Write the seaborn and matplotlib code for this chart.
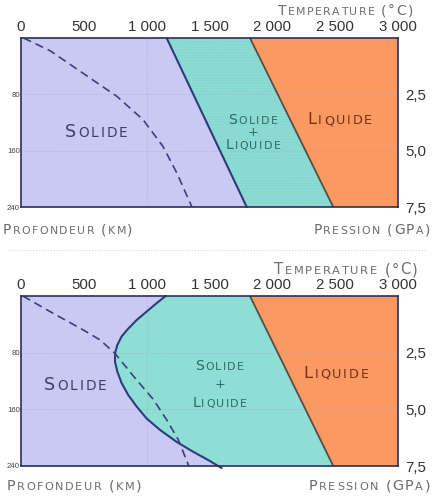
import numpy as np
import matplotlib
matplotlib.use("Agg")
import matplotlib.pyplot as plt
from matplotlib.transforms import offset_copy
import seaborn as sns

sns.set_theme(style="white")
plt.rcParams['font.family'] = ['Liberation Sans', 'DejaVu Sans']

# ---- data ----
temp_ticks = [0, 500, 1000, 1500, 2000, 2500, 3000]
temp_labels = ["0", "500", "1 000", "1 500", "2 000", "2 500", "3 000"]
depth_ticks = [80, 160, 240]
depth_labels = ["80", "160", "240"]
press_ticks = [2.5, 5.0, 7.5]
press_labels = ["2,5", "5,0", "7,5"]

# liquidus (same on both diagrams)
liq_temp = [1822, 2485]
liq_depth = [0, 240]

# top diagram: dry solidus + geotherm
sol1_temp = [1159, 1796]
sol1_depth = [0, 240]
geo1_temp = [20, 231, 493, 764, 971, 1130, 1241, 1360]
geo1_depth = [0, 18, 50, 83, 116, 154, 192, 240]

# bottom diagram: wet solidus + geotherm
sol2_temp = [1151, 1080, 1000, 920, 854, 801, 767, 748, 748, 767, 801, 854, 920,
             1000, 1106, 1239, 1371, 1504, 1597]
sol2_depth = [0, 10, 22, 34, 46, 57, 69, 81, 93, 107, 123, 140, 156,
              173, 189, 206, 220, 233, 243]
geo2_temp = [15, 231, 496, 629, 748, 894, 1053, 1160, 1252, 1335]
geo2_depth = [0, 22, 48, 62, 81, 113, 146, 175, 203, 240]

C_SOL = "#c9c9f3"
C_MIX = "#8fded6"
C_LIQ = "#fa9a62"
C_FRAME = "#2b2f5a"
C_SOLIDUS = "#2a3d7c"
C_LIQUIDUS = "#5b4b45"
C_GEO = "#3a4080"
C_AXLAB = "#6c6c6c"

W, H = 434, 499
fig = plt.figure(figsize=(W / 100, H / 100), dpi=100)
fig.patch.set_facecolor("white")
renderer = fig.canvas.get_renderer()


def small_caps(x, y, text, size, color, transform, ha="center", ratio=0.78, track=1.0):
    # matplotlib has no small-caps: place letter by letter
    pieces = []
    for ch in text:
        fs = size * ratio if ch.islower() else size
        if ch == " ":
            pieces.append((None, 0.30 * size))
            continue
        t = fig.text(0, 0, ch.upper(), fontsize=fs, color=color, family="DejaVu Sans",
                     va="baseline", ha="left")
        w = t.get_window_extent(renderer).width * 72 / fig.dpi
        pieces.append((t, w))
    total = sum(w for _, w in pieces) + track * (len(pieces) - 1)
    dx = {"left": 0, "center": -total / 2, "right": -total}[ha]
    for t, w in pieces:
        if t is not None:
            t.set_position((x, y))
            t.set_transform(offset_copy(transform, fig=fig, x=dx, y=-0.365 * size, units="points"))
        dx += w + track


def fx(px):
    return px / W


def fy(py):
    return 1 - py / H


def draw_panel(rect, sol_t, sol_d, geo_t, geo_d, texture):
    ax = fig.add_axes(rect)
    ax.set_xlim(0, 3000)
    ax.set_ylim(240, 0)

    # phase fields
    ax.fill([0] + sol_t + [0], [0] + sol_d + [sol_d[-1]], color=C_SOL, lw=0, zorder=1)
    ax.fill(sol_t + liq_temp[::-1], sol_d + liq_depth[::-1], color=C_MIX, lw=0, zorder=1)
    if texture:
        ax.fill(sol_t + liq_temp[::-1], sol_d + liq_depth[::-1], facecolor="none",
                edgecolor="#84d3cb", hatch="......", lw=0, zorder=1.5)
    ax.fill(liq_temp + [3000, 3000], liq_depth + [240, 0], color=C_LIQ, lw=0, zorder=1)

    # faint dotted grid
    for d in depth_ticks[:2]:
        ax.axhline(d, color="#9a9ab8", lw=0.7, ls=":", alpha=0.5, zorder=2)
    ax.axvline(1000, color="#9a9ab8", lw=0.7, ls=":", alpha=0.5, zorder=2)

    sns.lineplot(x=liq_temp, y=liq_depth, sort=False, estimator=None, ax=ax,
                 color=C_LIQUIDUS, lw=1.3, zorder=3)
    sns.lineplot(x=sol_t, y=sol_d, sort=False, estimator=None, ax=ax,
                 color=C_SOLIDUS, lw=1.5, zorder=4, clip_on=False)
    sns.lineplot(x=geo_t, y=geo_d, sort=False, estimator=None, ax=ax,
                 color=C_GEO, lw=1.2, dashes=(5, 3), zorder=4)

    ax.xaxis.tick_top()
    ax.set_xticks(temp_ticks, temp_labels)
    ax.set_yticks(depth_ticks, depth_labels)
    ax.tick_params(axis="x", length=0, pad=3, labelsize=10.8, labelcolor="#333333")
    ax.tick_params(axis="y", length=0, pad=0.8, labelsize=5.6, labelcolor="#444444")
    ax.set_xlabel("")
    ax.set_ylabel("")
    for sp in ax.spines.values():
        sp.set_color(C_FRAME)
        sp.set_linewidth(1.2)
        sp.set_zorder(5)

    ax2 = ax.twinx()
    ax2.set_ylim(7.5, 0)
    ax2.set_yticks(press_ticks, press_labels)
    ax2.tick_params(axis="y", length=0, pad=5, labelsize=10.8, labelcolor="#333333")
    for sp in ax2.spines.values():
        sp.set_visible(False)
    ax2.grid(False)
    ax.grid(False)
    return ax


# ---- top diagram ----
ax1 = draw_panel([fx(21), fy(207), fx(377), 169 / H], sol1_temp, sol1_depth,
                 geo1_temp, geo1_depth, texture=True)
small_caps(597, 131, "Solide", 12.6, "#3d3d6b", ax1.transData, track=1.5)
small_caps(1846, 115, "Solide", 10.2, "#2d6b66", ax1.transData, track=1.0)
small_caps(1846, 133, "+", 9.2, "#2d6b66", ax1.transData)
small_caps(1846, 150, "Liquide", 10.2, "#2d6b66", ax1.transData, track=1.0)
small_caps(2536, 114, "Liquide", 11.8, "#7a3010", ax1.transData, track=1.3)

small_caps(fx(413), fy(10), "Temperature (°C)", 10.0, C_AXLAB, fig.transFigure, ha="right", track=1.0)
small_caps(fx(3), fy(229), "Profondeur (km)", 10.0, C_AXLAB, fig.transFigure, ha="left", track=1.0)
small_caps(fx(430), fy(229), "Pression (GPa)", 10.0, C_AXLAB, fig.transFigure, ha="right", track=1.0)

# faint separator between the two diagrams
fig.add_artist(plt.Line2D([0.02, 0.98], [fy(250), fy(250)], transform=fig.transFigure,
                          color="#d5d5d5", lw=0.8, ls=":"))

# ---- bottom diagram ----
ax3 = draw_panel([fx(21), fy(466), fx(377), 170 / H], sol2_temp, sol2_depth,
                 geo2_temp, geo2_depth, texture=False)
small_caps(430, 123, "Solide", 12.6, "#3d3d6b", ax3.transData, track=1.5)
small_caps(1580, 97, "Solide", 10.2, "#2d6b66", ax3.transData, track=1.0)
small_caps(1580, 123, "+", 9.2, "#2d6b66", ax3.transData)
small_caps(1580, 150, "Liquide", 10.2, "#2d6b66", ax3.transData, track=1.0)
small_caps(2507, 107, "Liquide", 11.8, "#7a3010", ax3.transData, track=1.3)

small_caps(fx(418), fy(269), "Temperature (°C)", 10.6, C_AXLAB, fig.transFigure, ha="right", track=1.1)
small_caps(fx(7), fy(485), "Profondeur (km)", 10.4, C_AXLAB, fig.transFigure, ha="left", track=1.1)
small_caps(fx(430), fy(485), "Pression (GPa)", 10.4, C_AXLAB, fig.transFigure, ha="right", track=1.1)

fig.savefig("out.png", dpi=100)
